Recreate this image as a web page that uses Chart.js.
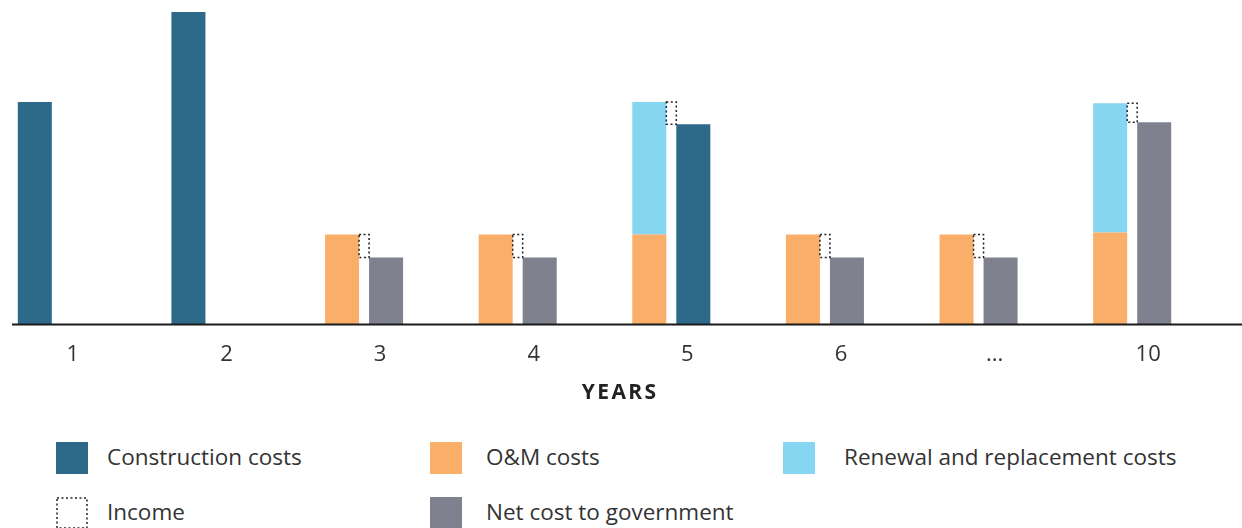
<!DOCTYPE html>
<html><head><meta charset="utf-8">
<script src="https://cdn.jsdelivr.net/npm/chart.js@4.4.1/dist/chart.umd.min.js"></script>
<style>
html,body{margin:0;padding:0;background:#fff;}
body{width:1242px;height:528px;position:relative;overflow:hidden;font-family:'Open Sans',sans-serif;color:#333;}
#wrap{position:absolute;left:-32px;top:0;width:1274px;height:420px;}
#xtitle{position:absolute;left:519px;width:200px;top:377px;text-align:center;font-size:21px;font-weight:bold;color:#222;letter-spacing:2.4px;text-indent:2.4px;}
.sw{position:absolute;width:32px;height:32px;}
.tx{position:absolute;font-size:22.5px;line-height:32px;height:32px;white-space:nowrap;color:#333;}
</style></head><body>
<div id="wrap"><canvas id="c"></canvas></div>
<div id="xtitle">YEARS</div>
<div class="sw" style="left:56px;top:442px;background:#2D6A8A"></div>
<div class="tx" style="left:107px;top:441px">Construction costs</div>
<div class="sw" style="left:430px;top:442px;background:#F9AF6A"></div>
<div class="tx" style="left:486px;top:441px">O&amp;M costs</div>
<div class="sw" style="left:783px;top:442px;background:#86D6F1"></div>
<div class="tx" style="left:844px;top:441px">Renewal and replacement costs</div>
<svg class="sw" style="left:56px;top:497px" width="32" height="32"><rect x="1" y="1" width="30" height="30" fill="none" stroke="#222" stroke-width="1.5" stroke-dasharray="2 2.5"/></svg>
<div class="tx" style="left:107px;top:496px">Income</div>
<div class="sw" style="left:430px;top:497px;background:#7F828E"></div>
<div class="tx" style="left:486px;top:496px">Net cost to government</div>
<script>
// ---- data ----
const categories = ['1', '2', '3', '4', '5', '6', '...', '10'];
const constructionCosts = [71.2, 100, null, null, null, null, null, null];
const omCosts = [null, null, 28.8, 28.8, 28.8, 28.8, 28.8, 29.5];
const renewalCosts = [null, null, null, null, 42.4, null, null, 41.3];
const constructionNet = [null, null, null, null, 64.1, null, null, null];
const netCost = [null, null, 21.5, 21.5, null, 21.5, 21.5, 64.7];
const income = [null, null, [21.5, 28.8], [21.5, 28.8], [64.1, 71.2], [21.5, 28.8], [21.5, 28.8], [64.7, 70.8]];

const COL_CON = '#2D6A8A', COL_OM = '#F9AF6A', COL_REN = '#86D6F1', COL_NET = '#7F828E';

const incomeOutline = {
  id: 'incomeOutline',
  afterDatasetsDraw(chart) {
    const ctx = chart.ctx;
    // baseline axis line
    const y0 = chart.scales.y.getPixelForValue(0);
    ctx.save();
    ctx.strokeStyle = '#1a1a1a';
    ctx.lineWidth = 2;
    ctx.beginPath();
    ctx.moveTo(44, y0);
    ctx.lineTo(chart.width, y0);
    ctx.stroke();
    // dashed income boxes
    const idx = chart.data.datasets.findIndex(d => d.label === 'Income');
    const meta = chart.getDatasetMeta(idx);
    ctx.setLineDash([2, 2.5]);
    ctx.lineWidth = 1.5;
    ctx.strokeStyle = '#222';
    meta.data.forEach((el, i) => {
      if (chart.data.datasets[idx].data[i] == null) return;
      const p = el.getProps(['x', 'y', 'base', 'width'], true);
      ctx.strokeRect(p.x - p.width / 2, Math.min(p.y, p.base), p.width, Math.abs(p.base - p.y));
    });
    ctx.restore();
  }
};

new Chart(document.getElementById('c'), {
  type: 'bar',
  data: {
    labels: categories,
    datasets: [
      { label: 'Construction costs', data: constructionCosts, backgroundColor: COL_CON, stack: 'left' },
      { label: 'O&M costs', data: omCosts, backgroundColor: COL_OM, stack: 'left' },
      { label: 'Renewal and replacement costs', data: renewalCosts, backgroundColor: COL_REN, stack: 'left' },
      { label: 'Construction costs (net)', data: constructionNet, backgroundColor: COL_CON, stack: 'right' },
      { label: 'Net cost to government', data: netCost, backgroundColor: COL_NET, stack: 'right' },
      { label: 'Income', data: income, backgroundColor: 'rgba(0,0,0,0)', borderWidth: 0, stack: 'income', grouped: false, barThickness: 10 }
    ]
  },
  options: {
    responsive: true,
    maintainAspectRatio: false,
    animation: false,
    categoryPercentage: 0.573,
    barPercentage: 0.773,
    layout: { padding: { left: 12, right: 33, top: 12, bottom: 35 } },
    plugins: { legend: { display: false }, tooltip: { enabled: false } },
    scales: {
      x: {
        grid: { display: false, drawTicks: false },
        border: { display: false },
        ticks: { color: '#333', font: { family: 'Open Sans', size: 22 }, padding: 17, labelOffset: 16, autoSkip: false, maxRotation: 0 }
      },
      y: { display: false, stacked: true, min: 0, max: 100 }
    }
  },
  plugins: [incomeOutline]
});
</script>
</body></html>
